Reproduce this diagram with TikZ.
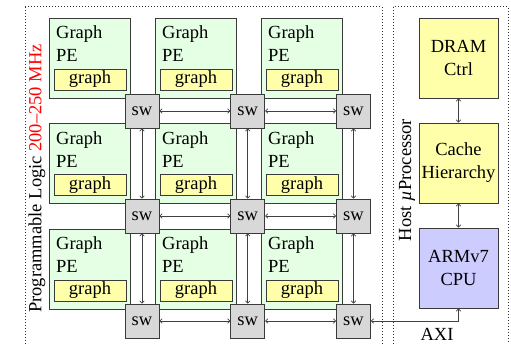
\documentclass[tikz,border=0pt]{standalone}
\usepackage{fontspec}
\setmainfont{Liberation Serif}
\usetikzlibrary{arrows.meta,calc}
\definecolor{pegreen}{HTML}{E4FFE4}
\definecolor{memyellow}{HTML}{FFFFAA}
\definecolor{swgray}{HTML}{D8D8D8}
\definecolor{cpublue}{HTML}{CCCCFF}
\definecolor{edge}{HTML}{3A3A3A}
\begin{document}
\begin{tikzpicture}[x=1pt,y=-1pt,
  every node/.style={font=\rmfamily\fontsize{18.5}{23}\selectfont, inner sep=0pt},
  pebox/.style={draw=edge, line width=0.9pt, fill=pegreen, anchor=north west,
    minimum width=81pt, minimum height=80pt},
  graphbox/.style={draw=edge, line width=0.9pt, fill=memyellow,
    minimum width=72pt, minimum height=21pt},
  swbox/.style={draw=edge, line width=0.9pt, fill=swgray,
    minimum width=34pt, minimum height=34pt},
  hostbox/.style={draw=edge, line width=0.9pt, align=center,
    minimum width=79pt, minimum height=80pt},
  region/.style={draw=black!80, line width=1pt, dotted},
  link/.style={draw=black!75, line width=0.7pt,
    {To[length=3pt,width=5pt]}-{To[length=3pt,width=5pt]}}]
\useasboundingbox (0,0) rectangle (511,344);
\clip (0,0) rectangle (511,344);

% dotted region outlines
\draw[region] (25,7) rectangle (382,360);
\draw[region] (393,7) rectangle (508,360);

% region labels
\node[rotate=90] (pllabel) at (37,178.5)
  {Programmable Logic \textcolor{red}{200–250 MHz}};
\node[rotate=90] (hostlabel) at (407,180) {Host {\itshape µ}Processor};

% processing elements
\foreach \c in {0,1,2}{
  \foreach \r in {0,1,2}{
    \pgfmathsetmacro{\px}{49+106*\c}
    \pgfmathsetmacro{\py}{18+105.5*\r}
    \node[pebox] (pe-\c-\r) at (\px,\py) {};
    \node[anchor=base west] (pet-\c-\r) at (\px+7,\py+21) {Graph};
    \node[anchor=base west] (pep-\c-\r) at (\px+7,\py+44) {PE};
    \node[graphbox] (gr-\c-\r) at (\px+41,\py+61.5) {graph};
  }
}

% switches
\foreach \c in {0,1,2}{
  \foreach \r in {0,1,2}{
    \node[swbox] (sw-\c-\r) at ({142+105.75*\c},{111+105*\r}) {sw};
  }
}

% switch network links
\foreach \r in {0,1,2}{
  \draw[link] (sw-0-\r.east) -- (sw-1-\r.west);
  \draw[link] (sw-1-\r.east) -- (sw-2-\r.west);
}
\foreach \c in {0,1,2}{
  \draw[link] (sw-\c-0.south) -- (sw-\c-1.north);
  \draw[link] (sw-\c-1.south) -- (sw-\c-2.north);
}

% host side
\node[hostbox, fill=memyellow] (dram) at (458.5,58) {DRAM\\Ctrl};
\node[hostbox, fill=memyellow] (cache) at (458.5,163) {Cache\\Hierarchy};
\node[hostbox, fill=cpublue] (cpu) at (458.5,268) {ARMv7\\CPU};
\draw[link] (dram.south) -- (cache.north);
\draw[link] (cache.south) -- (cpu.north);

% AXI port
\draw[link] (sw-2-2.east) -| (cpu.south);
\node[anchor=base] (axi) at (437,340.5) {AXI};
\end{tikzpicture}
\end{document}
